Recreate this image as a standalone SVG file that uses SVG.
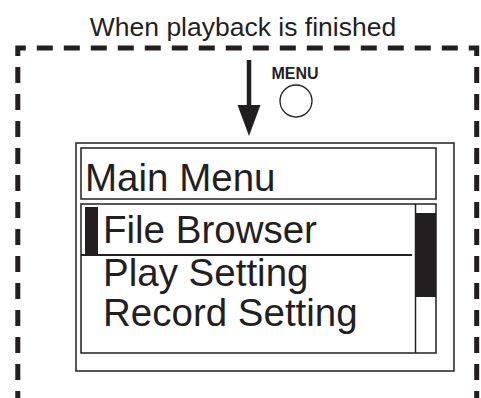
<svg xmlns="http://www.w3.org/2000/svg" width="481" height="398" viewBox="0 0 481 398">
<style>
.t{font-family:"Liberation Sans",Arial,sans-serif;fill:#231f20}
.box{fill:none;stroke:#231f20;stroke-width:1.5}
.item{font-size:38.5px}
</style>
<rect width="481" height="398" fill="#fff"/>
<text class="t" x="243" y="36" font-size="26.5" text-anchor="middle">When playback is finished</text>
<g id="frame">
<path d="M17.8 398 V48 H476.7 V398" fill="none" stroke="#231f20" stroke-width="5" stroke-dasharray="16 11" stroke-dashoffset="9" stroke-linejoin="miter"/>
</g>
<g id="connectors">
<line x1="249" y1="60" x2="249" y2="110" stroke="#231f20" stroke-width="4.5"/>
<polygon points="237.5,105 260.5,105 249,136" fill="#231f20"/>
</g>
<g id="menu-button">
<text class="t" x="295" y="79" font-size="16" font-weight="bold" text-anchor="middle">MENU</text>
<circle cx="296" cy="101" r="16" fill="none" stroke="#231f20" stroke-width="1.3"/>
</g>
<g id="screen">
<rect class="box" x="76" y="143" width="378" height="228"/>
<g id="title-box">
<rect class="box" x="81" y="148" width="355" height="51"/>
<text class="t item" x="85" y="191">Main Menu</text>
</g>
<g id="list-box">
<rect class="box" x="81" y="204" width="355" height="149"/>
<line x1="415.5" y1="204" x2="415.5" y2="353" stroke="#231f20" stroke-width="1.5"/>
<rect x="415.5" y="213" width="20.5" height="84" fill="#231f20"/>
<rect x="85" y="207" width="13" height="48" fill="#231f20"/>
<line x1="81" y1="255" x2="412" y2="255" stroke="#231f20" stroke-width="2"/>
<text class="t item" x="103" y="243">File Browser</text>
<text class="t item" x="103" y="286">Play Setting</text>
<text class="t item" x="103" y="326">Record Setting</text>
</g>
</g>
</svg>
